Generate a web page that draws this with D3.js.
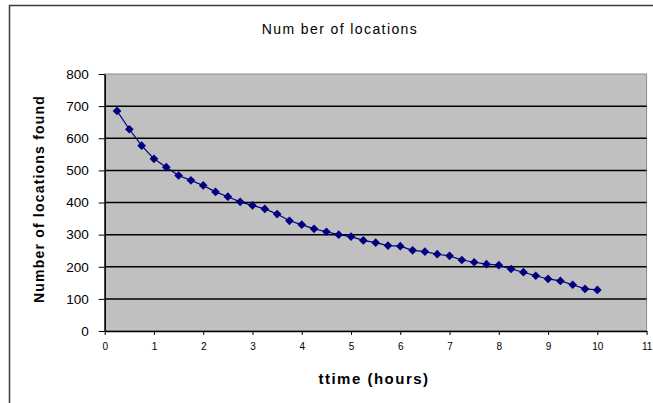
<!DOCTYPE html>
<html>
<head>
<meta charset="utf-8">
<script src="https://cdn.jsdelivr.net/npm/d3@7"></script>
<style>
body { margin: 0; background: #fff; }
svg { display: block; font-family: Arial, "Liberation Sans", sans-serif; }
.grid line { stroke: #000; stroke-width: 1.5; }
.axis path, .axis line { stroke: #000; }
.axis text { fill: #000; }
</style>
</head>
<body>
<div id="chart"></div>
<script>
// data
var hours = [0.25, 0.5, 0.75, 1, 1.25, 1.5, 1.75, 2, 2.25, 2.5, 2.75, 3, 3.25, 3.5, 3.75, 4,
             4.25, 4.5, 4.75, 5, 5.25, 5.5, 5.75, 6, 6.25, 6.5, 6.75, 7, 7.25, 7.5, 7.75, 8,
             8.25, 8.5, 8.75, 9, 9.25, 9.5, 9.75, 10];
var locations = [685, 628, 577, 536, 510, 484, 469, 453, 433, 418, 402, 391, 380, 364, 343, 331,
                 318, 309, 300, 294, 282, 275, 266, 264, 251, 247, 239, 234, 221, 214, 208, 205,
                 193, 183, 172, 162, 156, 144, 131, 128];
var xTicks = [0, 1, 2, 3, 4, 5, 6, 7, 8, 9, 10, 11];
var yTicks = [0, 100, 200, 300, 400, 500, 600, 700, 800];

var W = 653, H = 403;
var plot = {left: 104.7, right: 646.6, top: 74, bottom: 331};

var svg = d3.select("#chart").append("svg")
  .attr("width", W)
  .attr("height", H);

// outer chart frame (runs off the picture on right and bottom)
svg.append("rect")
  .attr("x", 9.5).attr("y", 5.5)
  .attr("width", 700).attr("height", 500)
  .attr("fill", "none")
  .attr("stroke", "#3a3a3a")
  .attr("stroke-width", 1.5);

var x = d3.scaleLinear().domain([0, 11]).range([plot.left, plot.right]);
var y = d3.scaleLinear().domain([0, 800]).range([plot.bottom, plot.top]);

// plot area
svg.append("rect")
  .attr("x", plot.left).attr("y", plot.top)
  .attr("width", plot.right - plot.left)
  .attr("height", plot.bottom - plot.top)
  .attr("fill", "#c0c0c0")
  .attr("stroke", "#8c8c8c")
  .attr("stroke-width", 1);

// gridlines
svg.append("g")
  .attr("class", "grid")
  .selectAll("line")
  .data(yTicks.filter(function(d){ return d > 0 && d < 800; }))
  .enter().append("line")
    .attr("x1", plot.left).attr("x2", plot.right)
    .attr("y1", function(d){ return y(d); })
    .attr("y2", function(d){ return y(d); });

// y axis
var yAxis = svg.append("g")
  .attr("class", "axis")
  .attr("transform", "translate(" + plot.left + ",0)")
  .call(d3.axisLeft(y).tickValues(yTicks).tickSize(6).tickPadding(10).tickSizeOuter(0));
yAxis.select(".domain").attr("stroke-width", 1.5);
yAxis.selectAll("text").style("font-size", "13.5px");

// x axis
var xAxis = svg.append("g")
  .attr("class", "axis")
  .attr("transform", "translate(0," + plot.bottom + ")")
  .call(d3.axisBottom(x).tickValues(xTicks).tickSize(4).tickPadding(8).tickSizeOuter(0));
xAxis.select(".domain").attr("stroke-width", 1.5);
xAxis.selectAll("text").style("font-size", "10px");

// series
var pts = hours.map(function(h, i){ return {h: h, v: locations[i]}; });

svg.append("path")
  .datum(pts)
  .attr("fill", "none")
  .attr("stroke", "#000080")
  .attr("stroke-width", 1.2)
  .attr("d", d3.line()
    .x(function(d){ return x(d.h); })
    .y(function(d){ return y(d.v); }));

svg.selectAll(".dot")
  .data(pts)
  .enter().append("path")
    .attr("class", "dot")
    .attr("d", d3.symbol().type(d3.symbolSquare).size(38))
    .attr("fill", "#000080")
    .attr("transform", function(d){ return "translate(" + x(d.h) + "," + y(d.v) + ") rotate(45)"; });

// titles
svg.append("text")
  .attr("x", 340).attr("y", 34)
  .attr("text-anchor", "middle")
  .style("font-size", "14px")
  .style("letter-spacing", "1.4px")
  .text("Num ber of locations");

svg.append("text")
  .attr("x", 374).attr("y", 384)
  .attr("text-anchor", "middle")
  .style("font-size", "15px")
  .style("font-weight", "bold")
  .style("letter-spacing", "1.5px")
  .text("ttime (hours)");

svg.append("text")
  .attr("transform", "translate(44,199) rotate(-90)")
  .attr("text-anchor", "middle")
  .style("font-size", "14px")
  .style("font-weight", "bold")
  .style("letter-spacing", "1.2px")
  .text("Number of locations found");
</script>
</body>
</html>
